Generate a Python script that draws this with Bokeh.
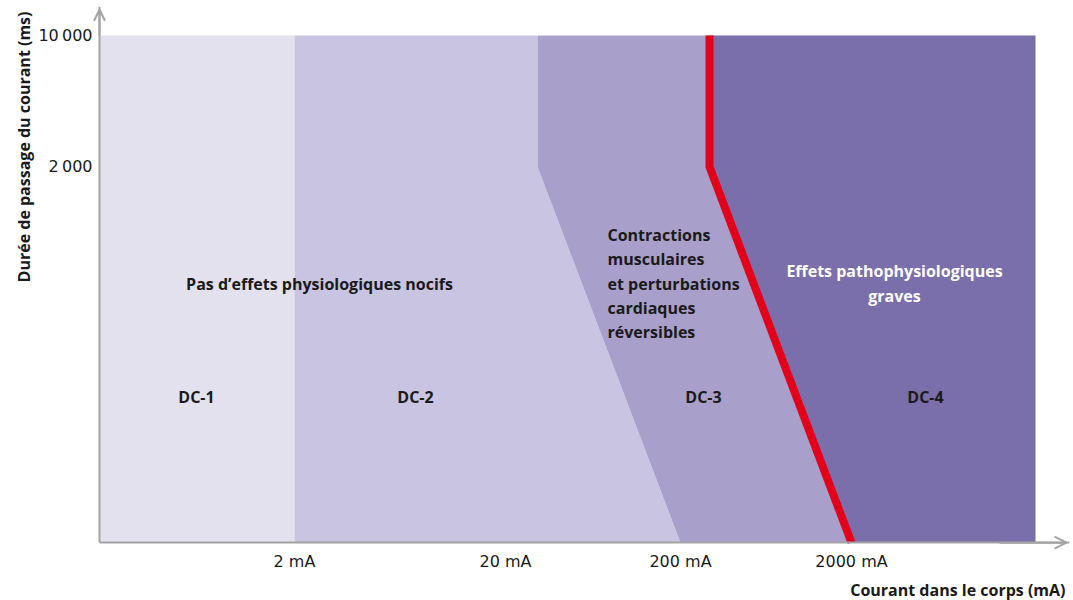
from bokeh.plotting import figure
from bokeh.models import Range1d, FixedTicker, Title, Arrow, OpenHead, ColumnDataSource, Label
from bokeh.core.properties import value
from bokeh.embed import file_html
from bokeh.resources import INLINE

# ---- data (schematic units on x, milliseconds on a log y axis) ----
x_tick_pos = [195, 406, 581, 752]
x_tick_labels = ["2 mA", "20 mA", "200 mA", "2000 mA"]
y_tick_vals = [2000, 10000]
y_tick_labels = ["2\u202f000", "10\u202f000"]

zone_names = ["DC-1", "DC-2", "DC-3", "DC-4"]
zone_colors = ["#e3e1ee", "#c8c4e1", "#a8a0cb", "#7a6eab"]

t_min, t_knee, t_max = 20, 2000, 10000
x_left, x_right = 0, 936
b1 = 195                      # DC-1 / DC-2 boundary
b2_top, b2_bottom = 438, 581  # DC-2 / DC-3 boundary
b3_top, b3_bottom = 610, 752  # DC-3 / DC-4 boundary (red curve)

zone_xs = [
    [x_left, b1, b1, x_left],
    [b1, b2_bottom, b2_top, b2_top, b1],
    [b2_bottom, b3_bottom, b3_top, b3_top, b2_top, b2_top],
    [b3_bottom, x_right, x_right, b3_top, b3_top],
]
zone_ys = [
    [t_min, t_min, t_max, t_max],
    [t_min, t_min, t_knee, t_max, t_max],
    [t_min, t_min, t_knee, t_max, t_max, t_knee],
    [t_min, t_min, t_max, t_max, t_knee],
]
red_x = [b3_top, b3_top, b3_bottom]
red_y = [t_max, t_knee, t_min]

zone_label_x = [97, 316, 604, 826]
zone_label_y = [119, 119, 119, 119]

FONT = "Open Sans"
TICK_FONT = "DejaVu Sans"
GREY = "#a3a3a3"
DARK = "#1a1a1a"

X_END, Y_END = 970, 14250

p = figure(width=1073, height=600,
           x_range=Range1d(-61, X_END), y_range=Range1d(13.21, Y_END),
           y_axis_type="log",
           output_backend="svg", toolbar_location=None,
           min_border_left=38, min_border_right=4,
           min_border_top=6, min_border_bottom=22)
p.grid.visible = False
p.outline_line_color = None
p.background_fill_color = "white"

p.patches(zone_xs, zone_ys, fill_color=zone_colors, line_color=None)
p.line(red_x, red_y, line_color="#e2001a", line_width=8, line_cap="butt", line_join="miter")

src = ColumnDataSource(dict(x=zone_label_x, y=zone_label_y, t=zone_names))
p.text(x="x", y="y", text="t", source=src, text_font=value(FONT), text_font_style="bold",
       text_font_size="16px", text_color=DARK, text_align="center", text_baseline="middle")

p.add_layout(Label(x=220, y=478, text="Pas d\u2019effets physiologiques nocifs",
                   text_font=FONT, text_font_style="bold", text_font_size="16px",
                   text_color=DARK, text_align="center", text_baseline="middle"))
p.add_layout(Label(x=508, y=478,
                   text="Contractions\nmusculaires\net perturbations\ncardiaques\nréversibles",
                   text_font=FONT, text_font_style="bold", text_font_size="16px",
                   text_color=DARK, text_align="left", text_baseline="middle",
                   text_line_height=1.1))
p.add_layout(Label(x=795, y=478, text="Effets pathophysiologiques\ngraves",
                   text_font=FONT, text_font_style="bold", text_font_size="16px",
                   text_color="white", text_align="center", text_baseline="middle",
                   text_line_height=1.17))

# axes, pinned at the origin of the schematic so labels and arrow heads stay inside the frame
for ax in (p.xaxis, p.yaxis):
    ax.axis_line_color = GREY
    ax.axis_line_width = 2
    ax.major_tick_line_color = None
    ax.minor_tick_line_color = None
    ax.major_tick_out = 0
    ax.major_tick_in = 0
    ax.major_label_text_font = TICK_FONT
    ax.major_label_text_font_size = "16px"
    ax.major_label_text_color = DARK

p.xaxis.ticker = FixedTicker(ticks=x_tick_pos)
p.xaxis.major_label_overrides = dict(zip(x_tick_pos, x_tick_labels))
p.xaxis.major_label_standoff = 9
p.xaxis.fixed_location = t_min
p.xaxis.bounds = (0, X_END)
p.yaxis.ticker = FixedTicker(ticks=y_tick_vals)
p.yaxis.major_label_overrides = dict(zip(y_tick_vals, y_tick_labels))
p.yaxis.major_label_standoff = 7
p.yaxis.fixed_location = 0
p.yaxis.bounds = (t_min, Y_END)

# axis arrows
p.add_layout(Arrow(x_start=900, y_start=t_min, x_end=967, y_end=t_min,
                   line_color=GREY, line_width=2,
                   end=OpenHead(size=12, line_color=GREY, line_width=2)))
p.add_layout(Arrow(x_start=0, y_start=10000, x_end=0, y_end=13700,
                   line_color=GREY, line_width=2,
                   end=OpenHead(size=11, line_color=GREY, line_width=2)))

# axis titles
p.add_layout(Title(text="Courant dans le corps (mA)", align="right", offset=4,
                   text_font=FONT, text_font_style="bold", text_font_size="16px",
                   text_color=DARK, standoff=0), "below")
p.add_layout(Title(text="Durée de passage du courant (ms)", align="right", offset=5,
                   text_font=FONT, text_font_style="bold", text_font_size="16px",
                   text_color=DARK, standoff=8), "left")

open("out.html", "w").write(file_html(p, INLINE))
